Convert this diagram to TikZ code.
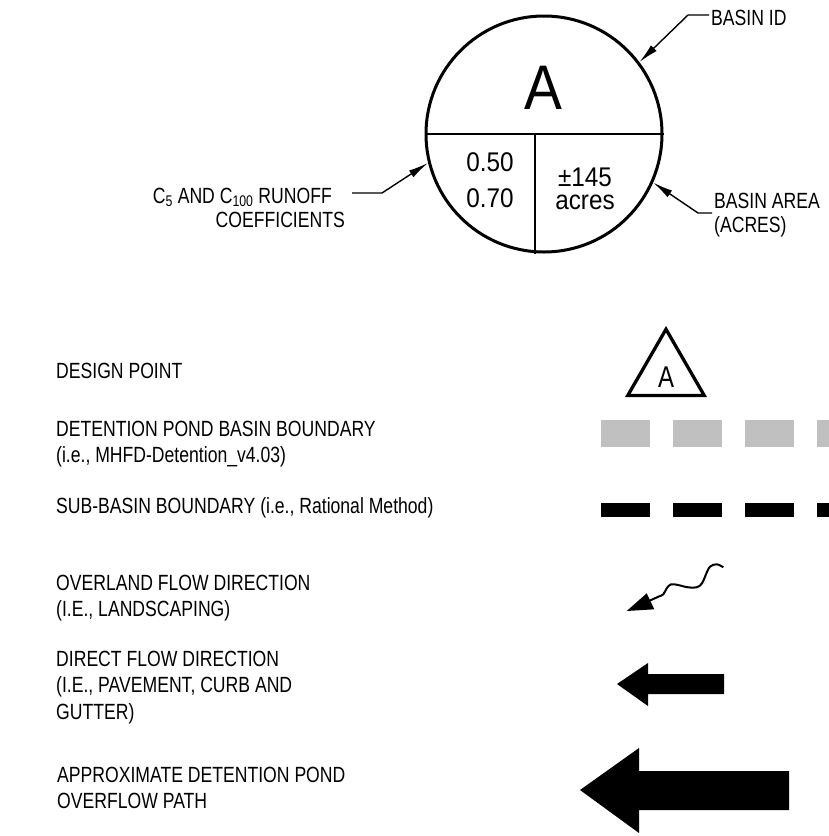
\documentclass[tikz,border=0pt]{standalone}
\usepackage{fontspec}
\setmainfont[FakeStretch=0.8]{Liberation Sans}
\newfontfamily\cellfont[FakeStretch=0.9]{Liberation Sans}
\usepackage{xcolor}
\definecolor{bndgray}{RGB}{192,192,192}
\usepackage{tikz}
\usetikzlibrary{arrows.meta,positioning,shapes.geometric,calc}
\tikzset{
  legend/.style={anchor=base west,inner sep=0pt,align=left,%
    font=\fontsize{22}{26.5}\selectfont},
  callout/.style={inner sep=0pt,align=left,font=\fontsize{22}{24}\selectfont},
  cell/.style={inner sep=0pt,align=center},
  leader/.style={line width=1.4pt,-{Latex[length=20pt,width=8pt]}},
  boundary/.style={line width=#1,dash pattern=on 49pt off 23pt},
}

\begin{document}
\begin{tikzpicture}[x=1pt,y=-1pt]
\useasboundingbox (0,0) rectangle (829,836);
% basin label bubble
\node[circle,draw,line width=3pt,minimum size=236pt,inner sep=0pt] (bubble) at (544,134) {};
\draw[line width=2pt] (bubble.west) -- (bubble.east);
\draw[line width=2pt] ([xshift=-9pt]bubble.center) -- ([xshift=-9pt]bubble.center |- bubble.south);
\node[cell,font=\cellfont\fontsize{63}{63}\selectfont] (bid) at (543,88) {A};
\node[cell,font=\cellfont\fontsize{27}{36}\selectfont] (coefs) at (490,180.5) {0.50\\0.70};
\node[cell,font=\cellfont\fontsize{27}{23}\selectfont] (area) at (585,189) {±145\\acres};
% callouts
\node[callout,anchor=west] (idtext) at (711,17.5) {BASIN ID};
\node[callout,anchor=west] (areatext) at (714,215) {BASIN AREA\\(ACRES)};
\node[callout,anchor=base east] (coeftext) at (332,203) {C\textsubscript{5} AND C\textsubscript{100} RUNOFF};
\node[callout,anchor=base east] (coeftext2) at (345,227.5) {COEFFICIENTS};
\draw[leader] ([xshift=-2pt,yshift=2.5pt]idtext.west) -- ++(-21,0) -- (bubble.37.5);
\draw[leader] ([xshift=-2pt,yshift=2pt]areatext.west) -- ++(-14,0) -- (bubble.-24);
\draw[leader] ([xshift=20pt,yshift=10pt]coeftext.base east) -- ++(30,0) -- (bubble.194);

% legend texts (base = last line)
\node[legend] (dptext) at (56,378) {DESIGN POINT};
\node[legend] (pondtext) at (56,462.5) {DETENTION POND BASIN BOUNDARY\\(i.e., MHFD-Detention\_v4.03)};
\node[legend] (subtext) at (56,513) {SUB-BASIN BOUNDARY (i.e., Rational Method)};
\node[legend] (overtext) at (56,616.5) {OVERLAND FLOW DIRECTION\\(I.E., LANDSCAPING)};
\node[legend] (directtext) at (56,719) {DIRECT FLOW DIRECTION\\(I.E., PAVEMENT, CURB AND\\GUTTER)};
\node[legend] (pathtext) at (57,808.5) {APPROXIMATE DETENTION POND\\OVERFLOW PATH};

% legend symbols
\node[regular polygon,regular polygon sides=3,draw,line width=3.3pt,%
  minimum size=88.3pt,inner sep=0pt] (dp) at (666,373.4) {};
\node[cell,font=\fontsize{30}{30}\selectfont] (dpid) at ([yshift=-4pt]dp.center) {A};
\draw[boundary=27pt,bndgray] (601,433.5) -- (870,433.5);
\draw[boundary=14pt,black] (601,510) -- (870,510);
\draw[line width=2pt] plot[smooth,tension=0.6] coordinates {(723.3,567.3) (716.7,564.3) (710,566.7)
  (705.7,575) (702,583.3) (696.7,587.3) (688,587.3) (678,585) (671,584.3) (666.7,588.3)
  (663.3,594.3) (658.3,596.7) (650,600.5)};
\fill (626.7,611) -- (646.7,593.3) -- (654.3,609.3) -- cycle;
\fill (724,674) -- (648,674) -- (648,663) -- (617,684) -- (648,706) -- (648,694) -- (724,694) -- cycle;
\fill (789,771) -- (639,771) -- (639,748) -- (580,790) -- (639,833) -- (639,810) -- (789,810) -- cycle;
\end{tikzpicture}
\end{document}
